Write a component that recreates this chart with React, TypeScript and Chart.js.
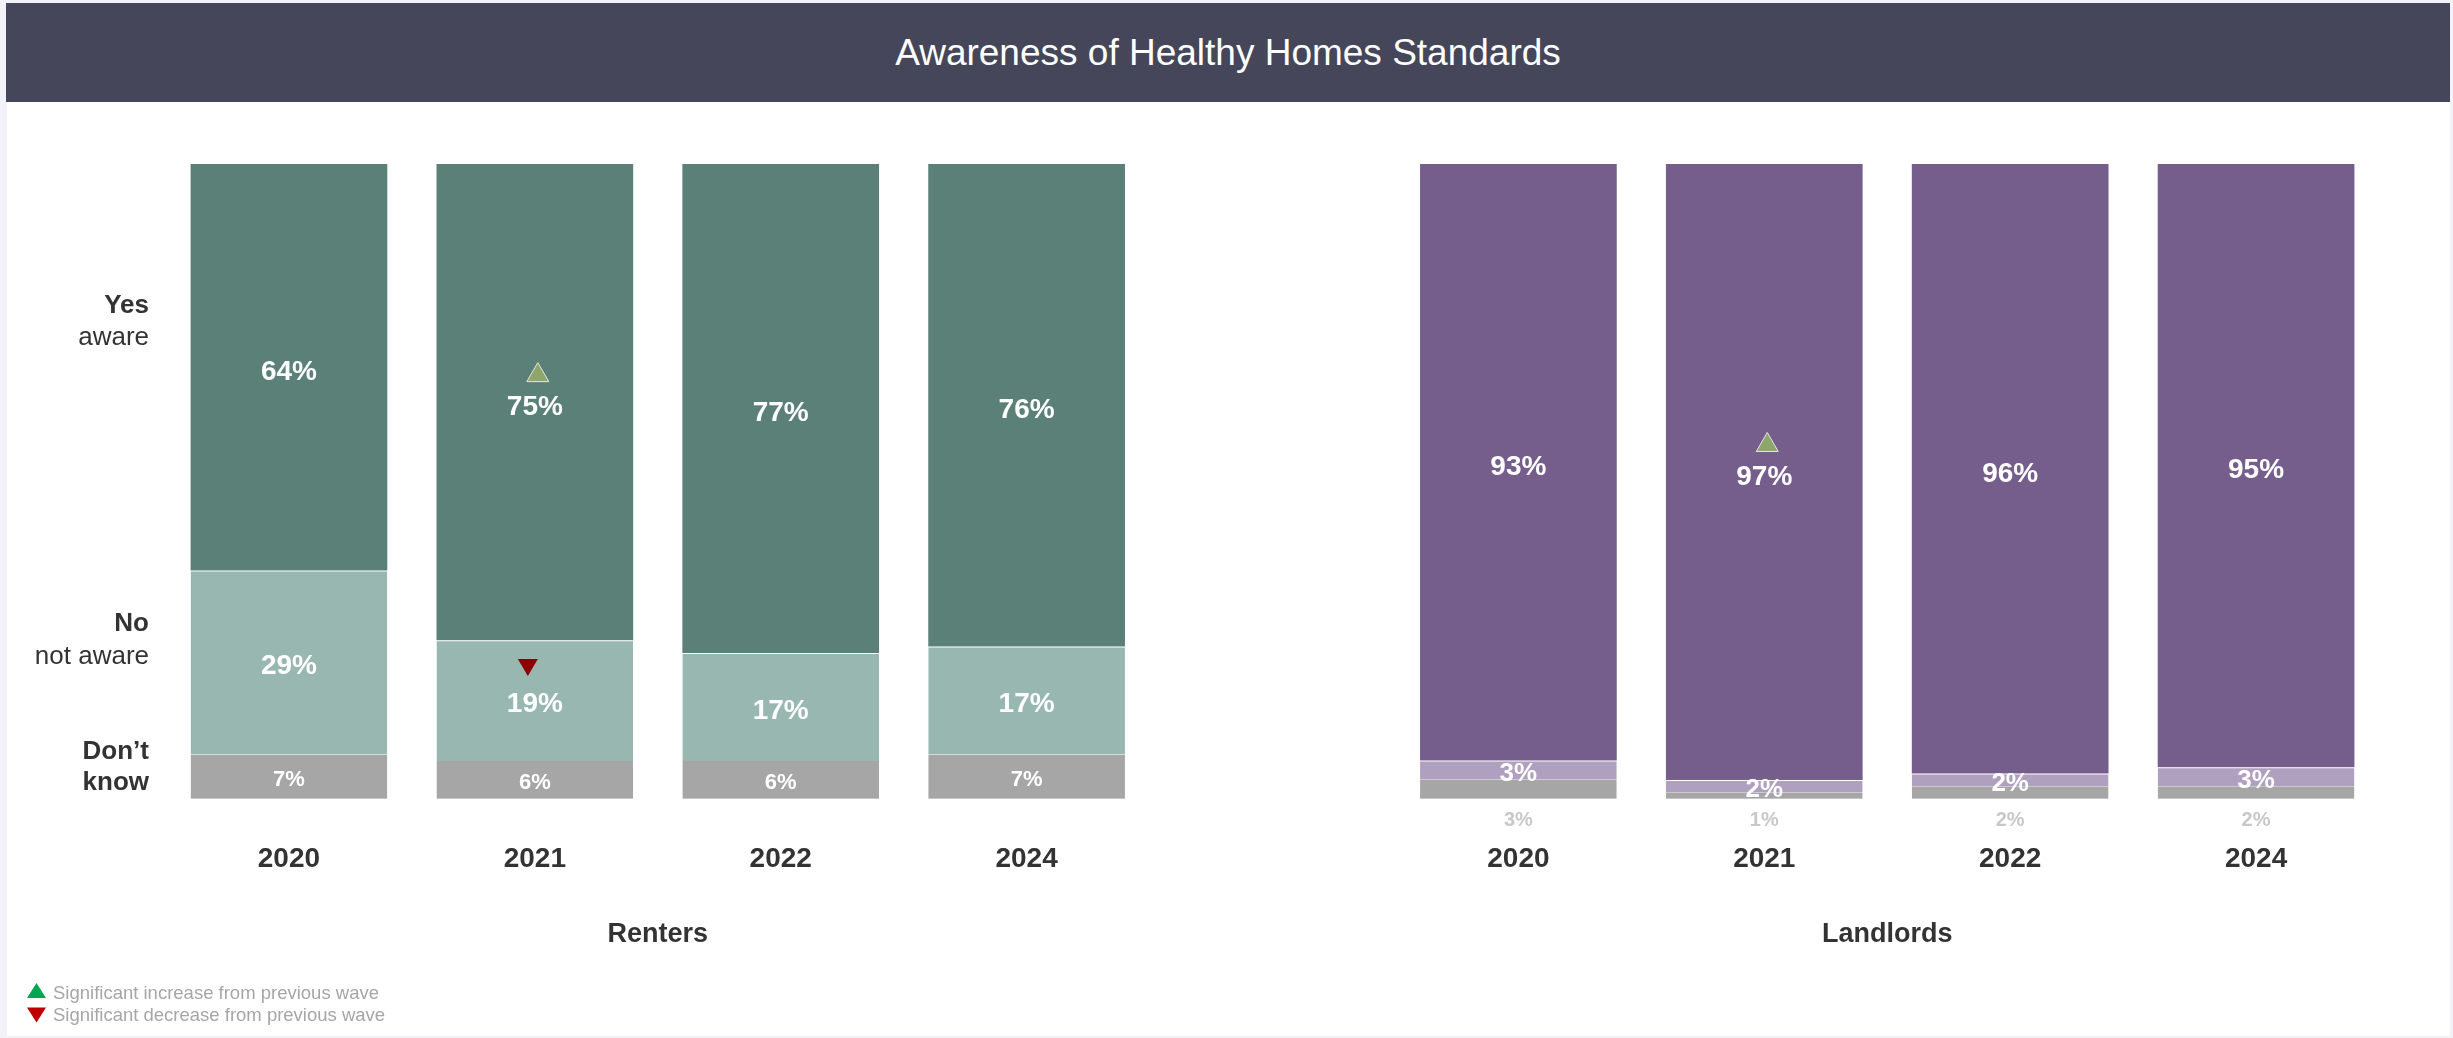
import React, { useEffect, useRef } from "react";
import { Chart, registerables } from "chart.js";

Chart.register(...registerables);

const TITLE = "Awareness of Healthy Homes Standards";
const years = ["2020", "2021", "2022", "2024"];
const groups = ["Renters", "Landlords"];

const rentersYes = [64, 75, 77, 76];
const rentersNo = [29, 19, 17, 17];
const rentersDK = [7, 6, 6, 7];
const landlordsYes = [93, 97, 96, 95];
const landlordsNo = [3, 2, 2, 3];
const landlordsDK = [3, 1, 2, 2];

// significance vs previous wave: 1 = increase, -1 = decrease
const rentersYesSig = [0, 1, 0, 0];
const rentersNoSig = [0, -1, 0, 0];
const landlordsYesSig = [0, 1, 0, 0];
const zeroSig = [0, 0, 0, 0];

const FONT = "'Liberation Sans', Arial, sans-serif";
const W = 2453;
const H = 1038;

const RC = { yes: "#5b8078", no: "#99b7b1", dk: "#a6a6a6" };
const LC = { yes: "#765e8c", no: "#b0a0c0", dk: "#a6a6a6" };

function tri(ctx: CanvasRenderingContext2D, cx: number, cy: number, w: number, h: number, up: boolean, fill: string, stroke?: string) {
  ctx.beginPath();
  if (up) {
    ctx.moveTo(cx, cy - h / 2);
    ctx.lineTo(cx + w / 2, cy + h / 2);
    ctx.lineTo(cx - w / 2, cy + h / 2);
  } else {
    ctx.moveTo(cx - w / 2, cy - h / 2);
    ctx.lineTo(cx + w / 2, cy - h / 2);
    ctx.lineTo(cx, cy + h / 2);
  }
  ctx.closePath();
  ctx.fillStyle = fill;
  ctx.fill();
  if (stroke) {
    ctx.strokeStyle = stroke;
    ctx.lineWidth = 1;
    ctx.stroke();
  }
}

export default function App() {
  const ref = useRef<HTMLCanvasElement | null>(null);

  useEffect(() => {
    const canvas = ref.current;
    if (!canvas) return;

    const labels = [...years, "", ...years];
    const GAP = 4;
    const combine = (a: number[], b: number[]) => [...a, null, ...b];
    const rawYes = combine(rentersYes, landlordsYes);
    const rawNo = combine(rentersNo, landlordsNo);
    const rawDK = combine(rentersDK, landlordsDK);
    const totals = rawYes.map((v, i) => (v == null ? null : (v as number) + (rawNo[i] as number) + (rawDK[i] as number)));
    const norm = (arr: (number | null)[]) => arr.map((v, i) => (v == null ? null : ((v as number) / (totals[i] as number)) * 100));
    const colors = (key: "yes" | "no" | "dk") => labels.map((_, i) => (i < GAP ? RC[key] : LC[key]));
    const sigYes = [...rentersYesSig, 0, ...landlordsYesSig];
    const sigNo = [...rentersNoSig, 0, ...zeroSig];

    const labelPlugin = {
      id: "labelPlugin",
      afterDatasetsDraw(chart: any) {
        const ctx: CanvasRenderingContext2D = chart.ctx;
        const xs = chart.scales.x;
        const ys = chart.scales.y;
        ctx.save();
        ctx.textAlign = "center";
        ctx.textBaseline = "middle";
        chart.data.datasets.forEach((ds: any, di: number) => {
          const meta = chart.getDatasetMeta(di);
          meta.data.forEach((bar: any, i: number) => {
            if (i === GAP) return;
            const raw = ds.raw[i];
            if (raw == null) return;
            const cx = bar.x;
            const cy = (bar.y + bar.base) / 2;
            const renters = i < GAP;
            const txt = raw + "%";
            if (ds.key === "yes") {
              ctx.fillStyle = "#ffffff";
              ctx.font = `bold 28px ${FONT}`;
              ctx.fillText(txt, cx, cy + 5);
              if (sigYes[i] === 1) tri(ctx, cx + 3, cy - 30, 22, 19, true, "#8fa66a", "#e6e6e6");
            } else if (ds.key === "no") {
              ctx.fillStyle = "#ffffff";
              ctx.font = renters ? `bold 28px ${FONT}` : `bold 26px ${FONT}`;
              ctx.fillText(txt, cx, cy + 4);
              if (sigNo[i] === -1) tri(ctx, cx - 7, cy - 33, 20, 17, false, "#8b0000");
            } else {
              if (renters) {
                ctx.fillStyle = "#ffffff";
                ctx.font = `bold 22px ${FONT}`;
                ctx.fillText(txt, cx, cy + 3);
              } else {
                ctx.fillStyle = "#c8c8c8";
                ctx.font = `bold 20px ${FONT}`;
                ctx.fillText(txt, cx, bar.base + 21);
              }
            }
          });
        });

        // row labels on left
        ctx.textAlign = "right";
        ctx.fillStyle = "#333333";
        const lx = 149;
        const rows: [string, boolean, number][] = [
          ["Yes", true, 77.6],
          ["aware", false, 72.6],
          ["No", true, 27.6],
          ["not aware", false, 22.4],
          ["Don\u2019t", true, 7.4],
          ["know", true, 2.5],
        ];
        rows.forEach(([t, b, v]) => {
          ctx.font = `${b ? "bold " : ""}26px ${FONT}`;
          ctx.fillText(t, lx, ys.getPixelForValue(v));
        });

        // group labels
        ctx.textAlign = "center";
        ctx.font = `bold 27px ${FONT}`;
        ctx.fillStyle = "#333333";
        const gy = 935;
        const rMid = (xs.getPixelForValue(1) + xs.getPixelForValue(2)) / 2;
        const lMid = (xs.getPixelForValue(6) + xs.getPixelForValue(7)) / 2;
        ctx.fillText(groups[0], rMid, gy);
        ctx.fillText(groups[1], lMid, gy);

        // legend
        tri(ctx, 36.5, 990.5, 19, 15, true, "#00a650");
        tri(ctx, 36.5, 1015, 19, 15, false, "#c00000");
        ctx.textAlign = "left";
        ctx.font = `18.5px ${FONT}`;
        ctx.fillStyle = "#a6a6a6";
        ctx.fillText("Significant increase from previous wave", 53, 994);
        ctx.fillText("Significant decrease from previous wave", 53, 1016);
        ctx.restore();
      },
    };

    const chart = new Chart(canvas, {
      type: "bar",
      data: {
        labels,
        datasets: [
          {
            key: "dk",
            label: "Don't know",
            data: norm(rawDK),
            raw: rawDK,
            backgroundColor: colors("dk"),
            borderColor: "#c4c4c4",
            borderWidth: { top: 0, left: 0, right: 0, bottom: 1 },
            borderSkipped: false,
          } as any,
          {
            key: "no",
            label: "No",
            data: norm(rawNo),
            raw: rawNo,
            backgroundColor: colors("no"),
            borderColor: "rgba(255,255,255,0.35)",
            borderWidth: { top: 1, left: 0, right: 0, bottom: 0 },
            borderSkipped: false,
          } as any,
          {
            key: "yes",
            label: "Yes",
            data: norm(rawYes),
            raw: rawYes,
            backgroundColor: colors("yes"),
            borderWidth: 0,
          } as any,
        ],
      },
      options: {
        responsive: false,
        animation: false,
        devicePixelRatio: 1,
        layout: { padding: { left: 166, right: 74, top: 164, bottom: 0 } },
        plugins: { legend: { display: false }, tooltip: { enabled: false }, title: { display: false } },
        datasets: { bar: { barPercentage: 0.8, categoryPercentage: 1 } },
        scales: {
          x: {
            stacked: true,
            grid: { display: false, drawTicks: false },
            border: { display: false },
            ticks: { color: "#333333", font: { family: FONT, size: 28, weight: "bold" }, padding: 43, maxRotation: 0, autoSkip: false },
            afterFit: (s: any) => {
              s.height = 239;
            },
          },
          y: { stacked: true, display: false, min: 0, max: 100 },
        },
      },
      plugins: [labelPlugin],
    });
    return () => chart.destroy();
  }, []);

  return (
    <div style={{ position: "fixed", left: 0, top: 0, width: W, height: H, background: "#f3f2f8", overflow: "hidden" }}>
      <div style={{ position: "absolute", left: 7, top: 3, width: 2443, height: 1033, background: "#ffffff" }} />
      <div
        style={{
          position: "absolute",
          left: 6,
          top: 3,
          width: 2444,
          height: 99,
          background: "#45465a",
          color: "#ffffff",
          fontFamily: FONT,
          fontSize: 37,
          display: "flex",
          alignItems: "center",
          justifyContent: "center",
        }}
      >
        {TITLE}
      </div>
      <canvas ref={ref} width={W} height={H} style={{ position: "absolute", left: 0, top: 0, width: W, height: H }} />
    </div>
  );
}
